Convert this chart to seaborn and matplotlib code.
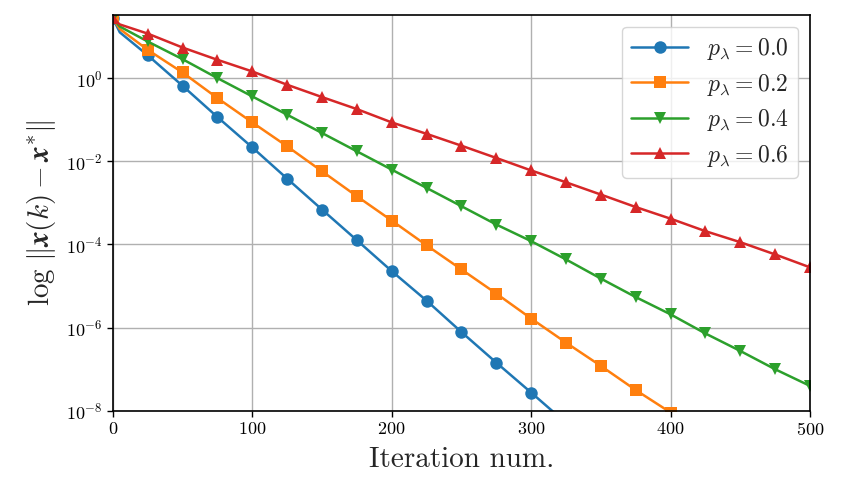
import matplotlib
matplotlib.use("Agg")
import matplotlib.pyplot as plt
import numpy as np
import pandas as pd
import seaborn as sns

# iterations and log10 of the error
iters_blue = [0, 5, 25, 50, 75, 100, 125, 150, 175, 200, 225, 250, 275, 300, 325]
log_blue = [1.44, 1.10, 0.55, -0.185, -0.936, -1.666, -2.417, -3.16, -3.897,
            -4.64, -5.35, -6.105, -6.84, -7.56, -8.29]

iters_orange = [0, 5, 25, 50, 75, 100, 125, 150, 175, 200, 225, 250, 275, 300,
                325, 350, 375, 400, 425]
log_orange = [1.44, 1.18, 0.68, 0.135, -0.48, -1.065, -1.64, -2.24, -2.84, -3.425,
              -4.02, -4.60, -5.18, -5.78, -6.36, -6.92, -7.50, -8.04, -8.62]

iters_green = [0, 5, 25, 50, 75, 100, 125, 150, 175, 200, 225, 250, 275, 300,
               325, 350, 375, 400, 425, 450, 475, 500]
log_green = [1.44, 1.24, 0.88, 0.455, 0.0, -0.44, -0.88, -1.32, -1.76, -2.20, -2.64,
             -3.08, -3.52, -3.92, -4.36, -4.82, -5.265, -5.68, -6.14, -6.56, -7.0, -7.40]

iters_red = [0, 5, 25, 50, 75, 100, 125, 150, 175, 200, 225, 250, 275, 300,
             325, 350, 375, 400, 425, 450, 475, 500]
log_red = [1.44, 1.29, 1.07, 0.735, 0.44, 0.16, -0.16, -0.456, -0.745, -1.065, -1.34,
           -1.625, -1.92, -2.22, -2.505, -2.80, -3.10, -3.38, -3.68, -3.945, -4.24, -4.55]

labels = [r"$p_\lambda = 0.0$", r"$p_\lambda = 0.2$", r"$p_\lambda = 0.4$", r"$p_\lambda = 0.6$"]
markers = ["o", "s", "v", "^"]
colors = ["#1f77b4", "#ff7f0e", "#2ca02c", "#d62728"]

sns.set_style("ticks", {"axes.grid": True, "grid.color": "#b0b0b0",
                        "axes.edgecolor": "black", "xtick.color": "black",
                        "ytick.color": "black"})
plt.rcParams["mathtext.fontset"] = "cm"
plt.rcParams["font.family"] = "serif"
plt.rcParams["font.serif"] = ["cmr10", "DejaVu Serif"]
plt.rcParams["axes.formatter.use_mathtext"] = True
plt.rcParams["axes.unicode_minus"] = False

fig = plt.figure(figsize=(8.42, 4.98), dpi=100)
ax = fig.add_axes([0.134, 0.175, 0.828, 0.795])

series = [(iters_blue, log_blue), (iters_orange, log_orange),
          (iters_green, log_green), (iters_red, log_red)]

for (it, lg), lab, mk, col in zip(series, labels, markers, colors):
    df = pd.DataFrame({"iter": it, "err": 10.0 ** np.array(lg)})
    # markers only on multiples of 25
    mev = [i for i, v in enumerate(it) if v % 25 == 0]
    sns.lineplot(data=df, x="iter", y="err", ax=ax, color=col, marker=mk,
                 markersize=9, markeredgewidth=0, linewidth=1.8,
                 markevery=mev, label=lab, sort=False)

ax.set_yscale("log")
ax.set_xlim(0, 500)
ax.set_ylim(1e-8, 33)
ax.set_yticks([1e-8, 1e-6, 1e-4, 1e-2, 1e0])
ax.yaxis.set_minor_locator(matplotlib.ticker.NullLocator())
ax.set_xticks([0, 100, 200, 300, 400, 500])
ax.tick_params(labelsize=13, direction="out", length=4, width=1)
for s in ax.spines.values():
    s.set_linewidth(1.2)
    s.set_visible(True)
ax.grid(True, color="#b0b0b0", linewidth=1)

ax.set_xlabel(r"Iteration num.", fontsize=21, labelpad=6)
ax.set_ylabel(r"$\log\, \|\boldsymbol{x}(k) - \boldsymbol{x}^{*}\|$", fontsize=21, labelpad=6)

ax.legend(loc="upper right", fontsize=17, frameon=True, framealpha=0.8,
          edgecolor="#cccccc", fancybox=True, handlelength=2.4,
          labelspacing=0.4, borderaxespad=0.5)

fig.savefig("out.png", dpi=100)
